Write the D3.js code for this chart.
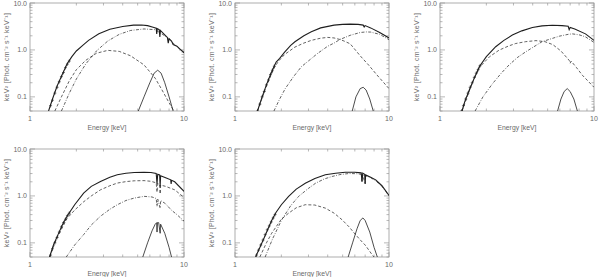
<!DOCTYPE html>
<html>
<head>
<meta charset="utf-8">
<script src="https://cdn.jsdelivr.net/npm/d3@7"></script>
<style>
  body { margin: 0; background: #fff; }
  text { font-family: "Liberation Sans", Arial, sans-serif; fill: #6a6a6a; }
</style>
</head>
<body>
<div id="chart"></div>
<script>
// Tick labels
var xTickLabels = ["1", "10"];
var yTickLabels = ["0.1", "1.0", "10.0"];

// Panel 1 ([energy keV, keV^2 flux])
var p1Total = [[1.32,0.05],[1.4,0.09],[1.5,0.17],[1.62,0.3],[1.74,0.5],[1.87,0.72],[2.0,0.95],[2.2,1.25],[2.4,1.6],[2.8,2.2],[3.3,2.75],[4.0,3.15],[4.7,3.38],[5.3,3.4],[5.8,3.3],[6.3,3.05],[6.6,2.9],[6.65,2.2],[6.7,2.85],[6.9,2.7],[6.97,1.9],[7.03,2.6],[7.5,2.1],[7.8,1.85],[7.9,1.4],[8.0,1.75],[8.3,1.55],[8.5,1.3],[9.0,1.2],[9.5,1.02],[10,0.88]];
var p1Dash = [[1.45,0.05],[1.6,0.1],[1.8,0.22],[2.0,0.38],[2.3,0.6],[2.7,0.85],[3.2,0.98],[3.8,0.93],[4.5,0.75],[5.5,0.48],[6.5,0.25],[7.2,0.14],[8.0,0.075],[8.6,0.05]];
var p1DashDot = [[1.6,0.05],[1.8,0.12],[2.0,0.24],[2.3,0.5],[2.7,0.95],[3.2,1.55],[3.8,2.15],[4.5,2.6],[5.5,2.8],[6.5,2.7],[7.5,2.0],[8.5,1.4],[10,0.86]];
var p1Gauss = [[5.05,0.05],[5.5,0.1],[6.0,0.2],[6.4,0.32],[6.75,0.37],[7.1,0.32],[7.5,0.2],[8.0,0.1],[8.5,0.05]];
var p1Data = [[1.36,0.065],[1.4,0.085],[1.45,0.12],[1.5,0.16],[1.55,0.21],[1.6,0.27],[1.65,0.33],[1.7,0.42],[1.75,0.5],[1.8,0.58]];

// Panel 2
var p2Total = [[1.4,0.05],[1.5,0.1],[1.6,0.18],[1.7,0.3],[1.79,0.44],[1.85,0.55],[1.95,0.66],[2.1,0.9],[2.3,1.25],[2.45,1.49],[2.8,2.0],[3.13,2.44],[3.6,2.95],[4.4,3.38],[5.0,3.5],[5.6,3.55],[6.3,3.5],[6.8,3.38],[6.9,3.1],[7.0,3.3],[7.6,2.95],[8.7,2.35],[10,1.8]];
var p2Dash = [[1.4,0.05],[1.6,0.17],[1.8,0.42],[1.92,0.58],[2.1,0.8],[2.45,1.15],[2.8,1.4],[3.13,1.6],[3.6,1.78],[4.0,1.85],[4.4,1.8],[4.8,1.67],[5.1,1.55],[5.6,1.35],[6.5,0.75],[7.4,0.47],[8.3,0.3],[10,0.15]];
var p2DashDot = [[1.79,0.05],[1.95,0.09],[2.12,0.15],[2.4,0.27],[2.7,0.44],[3.45,0.85],[4.0,1.2],[4.4,1.4],[4.8,1.67],[5.6,2.05],[6.5,2.35],[7.1,2.42],[7.6,2.4],[8.7,2.15],[10,1.65]];
var p2Gauss = [[5.77,0.05],[6.1,0.1],[6.5,0.15],[6.8,0.16],[7.1,0.14],[7.5,0.09],[7.9,0.05]];
var p2Data = [[1.4,0.05],[1.45,0.07],[1.5,0.1],[1.55,0.13],[1.6,0.18],[1.65,0.23],[1.7,0.3],[1.75,0.37],[1.8,0.45]];

// Panel 3
var p3Total = [[1.39,0.05],[1.45,0.08],[1.55,0.14],[1.65,0.23],[1.8,0.44],[2.0,0.72],[2.3,1.17],[2.6,1.6],[2.95,2.07],[3.4,2.55],[3.98,3.0],[4.6,3.25],[5.36,3.35],[6.2,3.3],[6.8,3.2],[6.9,2.7],[7.0,3.0],[7.5,2.8],[8.8,2.2],[10,1.6]];
var p3Dash = [[1.39,0.05],[1.6,0.18],[1.8,0.42],[1.89,0.5],[2.1,0.72],[2.42,0.99],[2.8,1.22],[3.1,1.37],[3.6,1.5],[4.2,1.58],[4.8,1.5],[5.4,1.3],[6.1,0.95],[6.9,0.6],[7.0,0.52],[7.1,0.58],[7.7,0.42],[8.4,0.29],[10,0.16]];
var p3DashDot = [[1.69,0.05],[1.9,0.1],[2.19,0.19],[2.5,0.32],[2.81,0.48],[3.2,0.7],[3.6,0.91],[4.6,1.5],[5.94,1.96],[6.8,2.15],[7.23,2.2],[8.0,2.1],[8.8,1.9],[10,1.45]];
var p3Gauss = [[5.8,0.05],[6.1,0.09],[6.4,0.13],[6.7,0.15],[7.0,0.13],[7.4,0.09],[7.8,0.05]];
var p3Data = [[1.38,0.05],[1.42,0.065],[1.47,0.09],[1.52,0.12],[1.57,0.16],[1.62,0.2],[1.67,0.26],[1.72,0.32],[1.77,0.38],[1.82,0.46]];

// Panel 4
var p4Total = [[1.34,0.05],[1.42,0.09],[1.52,0.15],[1.63,0.25],[1.74,0.37],[1.95,0.65],[2.23,1.15],[2.5,1.6],[2.87,2.04],[3.3,2.5],[3.69,2.83],[4.2,3.05],[4.75,3.16],[5.5,3.2],[6.1,3.16],[6.6,3.0],[6.68,1.8],[6.75,2.9],[6.95,2.8],[7.0,1.6],[7.05,2.7],[7.6,2.45],[8.2,2.2],[8.25,1.8],[8.3,2.15],[8.7,2.0],[10,1.25]];
var p4Dash = [[1.34,0.05],[1.5,0.13],[1.74,0.33],[1.95,0.5],[2.23,0.75],[2.5,1.0],[2.87,1.35],[3.3,1.65],[3.69,1.88],[4.2,2.02],[4.75,2.1],[5.5,2.12],[6.1,2.05],[6.6,1.9],[6.68,1.2],[6.75,1.85],[6.95,1.75],[7.0,1.1],[7.05,1.7],[7.6,1.6],[8.7,1.35],[10,0.93]];
var p4DashDot = [[1.72,0.05],[1.95,0.09],[2.23,0.15],[2.5,0.24],[2.87,0.37],[3.3,0.52],[3.69,0.65],[4.2,0.8],[4.75,0.9],[5.5,0.98],[6.2,0.95],[6.6,0.88],[6.68,0.6],[6.75,0.86],[7.0,0.55],[7.05,0.8],[7.6,0.68],[8.27,0.5],[9.0,0.4],[10,0.29]];
var p4Gauss = [[5.4,0.05],[5.8,0.1],[6.2,0.18],[6.5,0.25],[6.65,0.27],[6.68,0.17],[6.72,0.27],[6.85,0.27],[7.0,0.16],[7.05,0.25],[7.5,0.16],[8.0,0.08],[8.3,0.05]];
var p4Data = [[1.36,0.055],[1.4,0.075],[1.45,0.1],[1.5,0.13],[1.55,0.17],[1.6,0.22],[1.65,0.27],[1.7,0.32],[1.75,0.38],[1.8,0.43]];

// Panel 5
var p5Total = [[1.36,0.05],[1.45,0.08],[1.55,0.13],[1.65,0.21],[1.73,0.3],[1.85,0.45],[2.0,0.65],[2.23,0.98],[2.5,1.4],[2.86,1.86],[3.3,2.35],[3.86,2.83],[4.5,3.05],[5.2,3.2],[6.0,3.2],[6.6,3.1],[6.68,2.0],[6.75,3.05],[6.95,2.9],[7.0,1.8],[7.05,2.8],[7.6,2.5],[8.2,2.2],[9.0,1.65],[10,1.03]];
var p5Dash = [[1.45,0.05],[1.6,0.1],[1.73,0.16],[2.0,0.32],[2.23,0.43],[2.5,0.56],[2.86,0.65],[3.3,0.64],[3.86,0.55],[4.4,0.43],[4.96,0.31],[5.5,0.22],[6.06,0.15],[6.6,0.11],[7.0,0.09],[7.4,0.07],[7.8,0.055],[8.0,0.05]];
var p5DashDot = [[1.57,0.05],[1.75,0.12],[2.01,0.31],[2.3,0.62],[2.59,0.98],[3.0,1.45],[3.33,1.86],[3.8,2.3],[4.27,2.6],[4.8,2.85],[5.48,3.0],[6.1,2.98],[6.6,2.9],[6.68,2.0],[6.75,2.85],[7.0,1.8],[7.05,2.7],[7.6,2.45],[8.2,2.1],[9.0,1.6],[10,1.0]];
var p5Gauss = [[5.43,0.05],[5.8,0.1],[6.2,0.2],[6.5,0.3],[6.77,0.34],[7.0,0.3],[7.5,0.17],[8.0,0.08],[8.4,0.05]];
var p5Data = [[1.38,0.055],[1.42,0.07],[1.47,0.09],[1.52,0.115],[1.57,0.15],[1.62,0.19],[1.67,0.23],[1.72,0.28],[1.77,0.34],[1.82,0.4]];

var panels = [
  { left: 30,  top: 3,   total: p1Total, dash: p1Dash, dashDot: p1DashDot, gauss: p1Gauss, data: p1Data },
  { left: 235, top: 3,   total: p2Total, dash: p2Dash, dashDot: p2DashDot, gauss: p2Gauss, data: p2Data },
  { left: 440, top: 3,   total: p3Total, dash: p3Dash, dashDot: p3DashDot, gauss: p3Gauss, data: p3Data },
  { left: 30,  top: 149, total: p4Total, dash: p4Dash, dashDot: p4DashDot, gauss: p4Gauss, data: p4Data },
  { left: 235, top: 149, total: p5Total, dash: p5Dash, dashDot: p5DashDot, gauss: p5Gauss, data: p5Data }
];

var svgWidth = 600;
var svgHeight = 277;
var plotWidth = 154;
var plotHeight = 108;
var axisColor = "#9a9a9a";
var lineColor = "#1e1e1e";

var svg = d3.select("#chart")
  .append("svg")
  .attr("width", svgWidth)
  .attr("height", svgHeight);

var xScale = d3.scaleLog().domain([1, 10]).range([0, plotWidth]);
var yScale = d3.scaleLog().domain([0.05, 10]).range([plotHeight, 0]);

var line = d3.line()
  .x(d => xScale(d[0]))
  .y(d => yScale(d[1]));

var xMinor = [2, 3, 4, 5, 6, 7, 8, 9];
var yMinor = [0.05, 0.06, 0.07, 0.08, 0.09, 0.2, 0.3, 0.4, 0.5, 0.6, 0.7, 0.8, 0.9, 2, 3, 4, 5, 6, 7, 8, 9];

panels.forEach(function(p, i) {
  var g = svg.append("g")
    .attr("transform", `translate(${p.left}, ${p.top})`);

  g.append("clipPath")
    .attr("id", "clip" + i)
    .append("rect")
    .attr("width", plotWidth)
    .attr("height", plotHeight);

  // Ticks on all four sides, pointing inward
  var ticks = g.append("g").attr("stroke", axisColor).attr("stroke-width", 0.7);
  [1, 10].concat(xMinor).forEach(function(v) {
    var len = (v === 1 || v === 10) ? 5 : 2.5;
    ticks.append("line").attr("x1", xScale(v)).attr("x2", xScale(v))
      .attr("y1", plotHeight).attr("y2", plotHeight - len);
    ticks.append("line").attr("x1", xScale(v)).attr("x2", xScale(v))
      .attr("y1", 0).attr("y2", len);
  });
  [0.1, 1, 10].concat(yMinor).forEach(function(v) {
    var len = (v === 0.1 || v === 1 || v === 10) ? 5 : 2.5;
    ticks.append("line").attr("y1", yScale(v)).attr("y2", yScale(v))
      .attr("x1", 0).attr("x2", len);
    ticks.append("line").attr("y1", yScale(v)).attr("y2", yScale(v))
      .attr("x1", plotWidth).attr("x2", plotWidth - len);
  });

  g.append("rect")
    .attr("width", plotWidth)
    .attr("height", plotHeight)
    .attr("fill", "none")
    .attr("stroke", axisColor)
    .attr("stroke-width", 0.8);

  // Tick labels
  g.selectAll(".xlab")
    .data(xTickLabels)
    .enter()
    .append("text")
    .attr("x", d => xScale(+d))
    .attr("y", plotHeight + 10)
    .attr("text-anchor", "middle")
    .attr("font-size", 7)
    .text(d => d);

  g.selectAll(".ylab")
    .data(yTickLabels)
    .enter()
    .append("text")
    .attr("x", -3)
    .attr("y", d => yScale(+d) + 2.5)
    .attr("text-anchor", "end")
    .attr("font-size", 7)
    .text(d => d);

  // Axis titles
  g.append("text")
    .attr("x", plotWidth / 2)
    .attr("y", plotHeight + 18.5)
    .attr("text-anchor", "middle")
    .attr("font-size", 6.8)
    .text("Energy [keV]");

  g.append("text")
    .attr("transform", `translate(-21, ${plotHeight / 2}) rotate(-90)`)
    .attr("text-anchor", "middle")
    .attr("font-size", 7)
    .attr("letter-spacing", 0.3)
    .text("keV\u00b2 [Phot. cm\u207b\u00b2 s\u207b\u00b9 keV\u207b\u00b9]");

  // Model curves
  var curves = g.append("g").attr("clip-path", `url(#clip${i})`).attr("fill", "none");

  curves.append("path")
    .attr("d", line(p.dash))
    .attr("stroke", lineColor)
    .attr("stroke-width", 0.7)
    .attr("stroke-dasharray", "3,2");

  curves.append("path")
    .attr("d", line(p.dashDot))
    .attr("stroke", lineColor)
    .attr("stroke-width", 0.7)
    .attr("stroke-dasharray", "3,1.5,0.8,1.5");

  curves.append("path")
    .attr("d", line(p.gauss))
    .attr("stroke", lineColor)
    .attr("stroke-width", 0.8);

  curves.append("path")
    .attr("d", line(p.total))
    .attr("stroke", lineColor)
    .attr("stroke-width", 1.1);

  // Data points as small crosses
  var pts = curves.selectAll(".pt")
    .data(p.data)
    .enter()
    .append("g")
    .attr("transform", d => `translate(${xScale(d[0])}, ${yScale(d[1])})`)
    .attr("stroke", lineColor)
    .attr("stroke-width", 0.6);
  pts.append("line").attr("x1", -1.5).attr("x2", 1.5);
  pts.append("line").attr("y1", -1.8).attr("y2", 1.8);
});
</script>
</body>
</html>
